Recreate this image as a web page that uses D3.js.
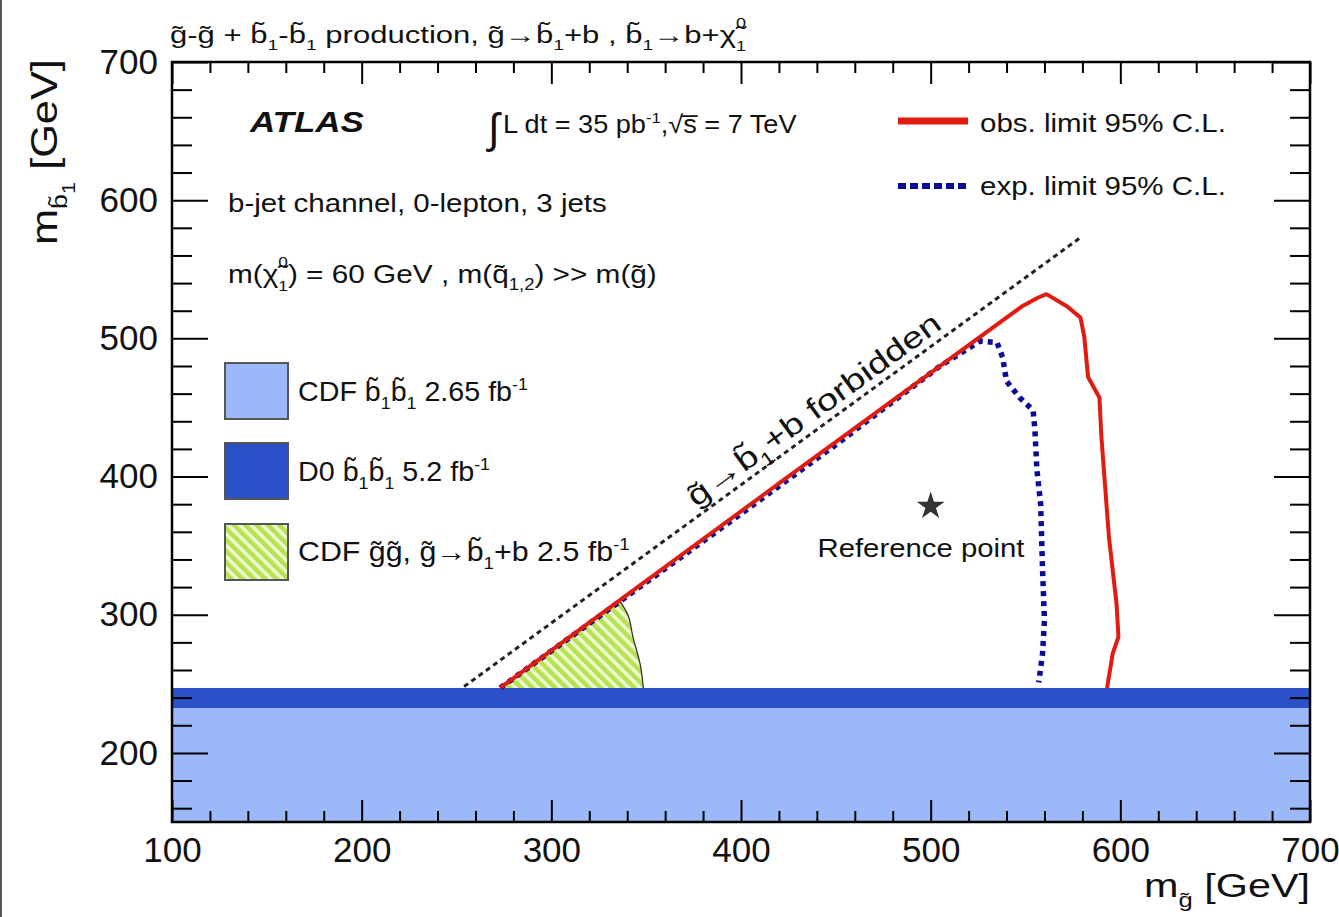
<!DOCTYPE html>
<html><head><meta charset="utf-8">
<script src="https://cdn.jsdelivr.net/npm/d3@7"></script>
<style>
body{margin:0;background:#fff}
svg{display:block}
text{font-family:"Liberation Sans",Arial,Helvetica,sans-serif;fill:#111}
</style>
</head><body>
<svg id="c" width="1339" height="917"></svg>
<script>
// ---------- data ----------
const xTicks = [100, 200, 300, 400, 500, 600, 700];
const yTicks = [200, 300, 400, 500, 600, 700];
const xMinorTicks = [120,140,160,180,220,240,260,280,320,340,360,380,420,440,460,480,520,540,560,580,620,640,660,680];
const yMinorTicks = [160,180,220,240,260,280,320,340,360,380,420,440,460,480,520,540,560,580,620,640,660,680];

// observed limit (m_gluino, m_sbottom)
const obsX = [273, 420, 548, 556, 561, 572, 579, 581, 583, 589, 590, 594, 598, 599, 596, 593];
const obsY = [247, 395, 523, 529, 532, 523, 515, 501, 472, 457, 429, 356, 308, 284, 272, 247];
// expected limit
const expX = [273, 400, 450, 505, 526, 535, 538, 540, 547, 554, 555, 556, 558, 559, 560, 559, 557];
const expY = [247, 373, 423, 480, 498, 497, 486, 469, 457, 448, 433, 405, 380, 332, 296, 272, 251];
// CDF gluino-gluino excluded region
const cdfGgX = [273, 336, 340, 343, 347, 348.5];
const cdfGgY = [247, 310, 301, 284, 263, 247];
// kinematic boundary g -> b1 + b
const kinX = [254, 579];
const kinY = [248, 573];
// sbottom pair exclusions (m_sbottom ranges)
const d0Band = [150, 247];
const cdfBand = [150, 232.5];
const refPoint = [500, 380];

// ---------- setup ----------
const svg = d3.select("#c");
const W = 1339, H = 917;
const L = 172, R = 1310, T = 62, B = 822;
const x = d3.scaleLinear().domain([100, 700]).range([L, R]);
const y = d3.scaleLinear().domain([150, 700]).range([B, T]);

const RED = "#e01b12", NAVY = "#0b0b9a", LIGHT = "#9bb9f9", DARK = "#2b51c8";

const defs = svg.append("defs");
const pat = defs.append("pattern").attr("id", "hatch").attr("patternUnits", "userSpaceOnUse")
  .attr("width", 8).attr("height", 8).attr("patternTransform", "rotate(-45)");
pat.append("rect").attr("width", 8).attr("height", 8).attr("fill", "#eef9d0");
pat.append("rect").attr("width", 4.5).attr("height", 8).attr("fill", "#b6e152");
defs.append("clipPath").attr("id", "plotclip").append("rect")
  .attr("x", L).attr("y", T).attr("width", R - L).attr("height", B - T);

// page border line at left
svg.append("line").attr("x1", 1).attr("x2", 1).attr("y1", 0).attr("y2", H)
  .attr("stroke", "#555").attr("stroke-width", 2);

const plot = svg.append("g").attr("clip-path", "url(#plotclip)");

// bands
plot.append("rect").attr("x", x(100)).attr("width", x(700) - x(100))
  .attr("y", y(d0Band[1])).attr("height", y(d0Band[0]) - y(d0Band[1])).attr("fill", DARK);
plot.append("rect").attr("x", x(100)).attr("width", x(700) - x(100))
  .attr("y", y(cdfBand[1])).attr("height", y(cdfBand[0]) - y(cdfBand[1])).attr("fill", LIGHT);

// CDF gluino region
const cdfPts = cdfGgX.map((v, i) => [x(v), y(cdfGgY[i])]);
plot.append("path").attr("d", d3.line()(cdfPts) + "Z").attr("fill", "url(#hatch)");
plot.append("path").attr("d", d3.line().curve(d3.curveMonotoneY)(cdfPts.slice(1)))
  .attr("fill", "none").attr("stroke", "#333").attr("stroke-width", 1.3);

// kinematic line
plot.append("path").attr("d", d3.line()(kinX.map((v, i) => [x(v), y(kinY[i])])))
  .attr("fill", "none").attr("stroke", "#222").attr("stroke-width", 3).attr("stroke-dasharray", "5,4");

// expected
plot.append("path").attr("d", d3.line()(expX.map((v, i) => [x(v), y(expY[i])])))
  .attr("fill", "none").attr("stroke", NAVY).attr("stroke-width", 5.5).attr("stroke-dasharray", "5,5");
// observed
plot.append("path").attr("d", d3.line()(obsX.map((v, i) => [x(v), y(obsY[i])])))
  .attr("fill", "none").attr("stroke", RED).attr("stroke-width", 4).attr("stroke-linejoin", "round");

// star
svg.append("path").attr("d", d3.symbol().type(d3.symbolStar).size(240)())
  .attr("transform", `translate(${x(refPoint[0])},${y(refPoint[1]) + 2})`).attr("fill", "#333");

// ---------- rich text helper ----------
function rich(parent, px, py, segs, fs, opts = {}) {
  const g = parent.append("g");
  const t = g.append("text").attr("x", 0).attr("y", 0).attr("font-size", fs)
    .attr("text-anchor", opts.anchor || "start");
  if (opts.weight) t.attr("font-weight", opts.weight);
  if (opts.style) t.attr("font-style", opts.style);
  let cur = 0;
  segs.forEach(s => {
    const [str, kind, str2] = typeof s === "string" ? [s, "n"] : s;
    let shift = 0, size = fs;
    if (kind === "sub") { shift = 0.28 * fs; size = 0.62 * fs; }
    if (kind === "sup") { shift = -0.40 * fs; size = 0.62 * fs; }
    if (kind === "sub2") { shift = 0.50 * fs; size = 0.50 * fs; }
    if (kind === "subsup") { shift = 0.32 * fs; size = 0.58 * fs; }
    const ts = t.append("tspan").attr("dy", shift - cur).attr("font-size", size).text(str);
    cur = shift;
    if (kind === "subsup") {
      const w = ts.node().getComputedTextLength();
      const sh2 = -0.62 * fs;
      t.append("tspan").attr("dx", -w).attr("dy", sh2 - cur).attr("font-size", size).text(str2);
      cur = sh2;
    }
  });
  let tr = `translate(${px},${py})`;
  if (opts.rotate) tr += ` rotate(${opts.rotate})`;
  if (opts.width) {
    const bw = t.node().getBBox().width;
    tr += ` scale(${opts.width / bw},1)`;
  }
  g.attr("transform", tr);
  return g;
}

const gt = "g\u0303", bt = "b\u0303", chi = "\u03c7\u0303", qt = "q\u0303";

// title
rich(svg, 170, 43, [`${gt}-${gt} + ${bt}`, ["1", "sub"], `-${bt}`, ["1", "sub"],
  ` production, ${gt}\u2192${bt}`, ["1", "sub"], `+b , ${bt}`, ["1", "sub"],
  `\u2192b+${chi}`, ["1", "subsup", "0"]], 24, { width: 578 });

// ATLAS
rich(svg, 250, 132, ["ATLAS"], 30, { weight: "bold", style: "italic", width: 115 });
// lumi
svg.append("text").attr("x", 488).attr("y", 143).attr("font-size", 42).text("\u222B");
rich(svg, 503, 133, ["L dt = 35 pb", ["-1", "sup"], ",\u221As\u0305 = 7 TeV"], 25, { width: 294 });
// channel
rich(svg, 228, 212, ["b-jet channel, 0-lepton, 3 jets"], 26, { width: 379 });
rich(svg, 228, 283, [`m(${chi}`, ["1", "subsup", "0"], ") = 60 GeV , m(" + qt, ["1,2", "sub"], `) >> m(${gt})`], 26, { width: 429 });

// legend right
svg.append("line").attr("x1", 898).attr("x2", 968).attr("y1", 121).attr("y2", 121)
  .attr("stroke", RED).attr("stroke-width", 7);
rich(svg, 980, 132, ["obs. limit 95% C.L."], 26, { width: 246 });
svg.append("line").attr("x1", 898).attr("x2", 968).attr("y1", 186).attr("y2", 186)
  .attr("stroke", NAVY).attr("stroke-width", 6).attr("stroke-dasharray", "8,4");
rich(svg, 980, 195, ["exp. limit 95% C.L."], 26, { width: 246 });

// legend left boxes
const boxes = [
  { y: 363, fill: LIGHT, segs: [`CDF ${bt}`, ["1", "sub"], bt, ["1", "sub"], " 2.65 fb", ["-1", "sup"]], w: 230, by: 401 },
  { y: 443, fill: DARK, segs: [`D0 ${bt}`, ["1", "sub"], bt, ["1", "sub"], " 5.2 fb", ["-1", "sup"]], w: 192, by: 481 },
  { y: 524, fill: "url(#hatch)", segs: [`CDF ${gt}${gt}, ${gt}\u2192${bt}`, ["1", "sub"], "+b 2.5 fb", ["-1", "sup"]], w: 332, by: 561 }
];
boxes.forEach(b => {
  svg.append("rect").attr("x", 225).attr("y", b.y).attr("width", 63).attr("height", 56)
    .attr("fill", b.fill).attr("stroke", "#555").attr("stroke-width", 2);
  rich(svg, 298, b.by, b.segs, 27, { width: b.w });
});

// forbidden label along kinematic line
{
  const ang = Math.atan2(y(kinY[1]) - y(kinY[0]), x(kinX[1]) - x(kinX[0]));
  const mx = 444, my = kinY[0] + (mx - kinX[0]) * (kinY[1] - kinY[0]) / (kinX[1] - kinX[0]);
  const off = 8;
  const px = x(mx) + off * Math.sin(ang), py = y(my) - off * Math.cos(ang);
  rich(svg, px, py, [`${gt}\u2192${bt}`, ["1", "sub"], "+b forbidden"], 30,
    { anchor: "middle", rotate: ang * 180 / Math.PI, width: 306 });
}
// reference point label
rich(svg, 921, 557, ["Reference point"], 26, { anchor: "middle", width: 208 });

// ---------- axes ----------
function styleAxis(g) {
  g.select(".domain").remove();
  g.selectAll(".tick line").attr("stroke", "#000").attr("stroke-width", 2);
  g.selectAll(".tick text").attr("font-size", 35).attr("fill", "#111")
    .attr("font-family", '"Liberation Sans",Arial,sans-serif');
}
svg.append("g").attr("transform", `translate(0,${B})`)
  .call(d3.axisBottom(x).tickValues(xTicks).tickSize(-22).tickPadding(15).tickFormat(d3.format("d"))).call(styleAxis);
svg.append("g").attr("transform", `translate(0,${B})`)
  .call(d3.axisBottom(x).tickValues(xMinorTicks).tickSize(-11).tickFormat("")).call(styleAxis);
svg.append("g").attr("transform", `translate(0,${T})`)
  .call(d3.axisTop(x).tickValues(xTicks).tickSize(-22).tickFormat("")).call(styleAxis);
svg.append("g").attr("transform", `translate(0,${T})`)
  .call(d3.axisTop(x).tickValues(xMinorTicks).tickSize(-11).tickFormat("")).call(styleAxis);
svg.append("g").attr("transform", `translate(${L},0)`)
  .call(d3.axisLeft(y).tickValues(yTicks).tickSize(-36).tickPadding(14).tickFormat(d3.format("d"))).call(styleAxis);
svg.append("g").attr("transform", `translate(${L},0)`)
  .call(d3.axisLeft(y).tickValues(yMinorTicks).tickSize(-20).tickFormat("")).call(styleAxis);
svg.append("g").attr("transform", `translate(${R},0)`)
  .call(d3.axisRight(y).tickValues(yTicks).tickSize(-36).tickFormat("")).call(styleAxis);
svg.append("g").attr("transform", `translate(${R},0)`)
  .call(d3.axisRight(y).tickValues(yMinorTicks).tickSize(-20).tickFormat("")).call(styleAxis);

svg.append("rect").attr("x", L).attr("y", T).attr("width", R - L).attr("height", B - T)
  .attr("fill", "none").attr("stroke", "#000").attr("stroke-width", 2.5);

// axis titles
rich(svg, 1310, 897, ["m", [gt, "sub"], " [GeV]"], 34, { anchor: "end", width: 166 });
rich(svg, 57, 245, ["m", [bt, "sub"], ["1", "sub2"], " [GeV]"], 37, { rotate: -90, width: 186 });
</script>
</body></html>
